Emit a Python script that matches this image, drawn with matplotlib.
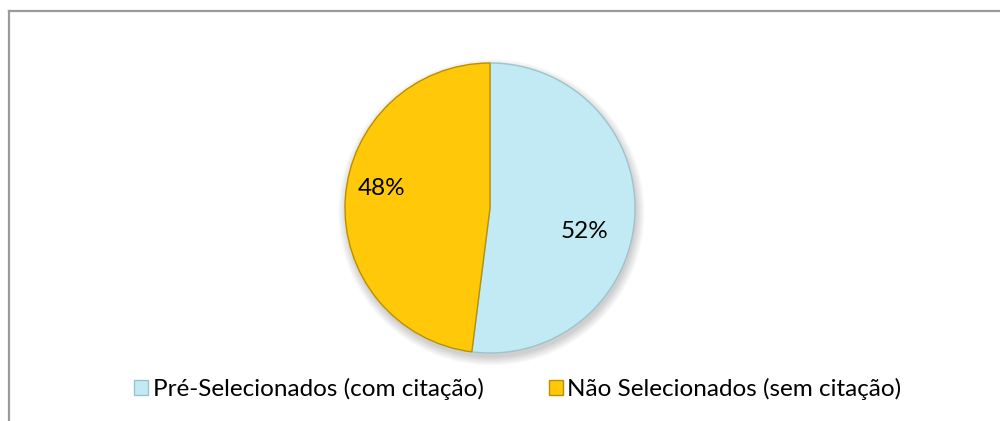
import numpy as np
import matplotlib.pyplot as plt
from matplotlib.lines import Line2D
from matplotlib.patches import Circle

plt.rcParams['font.family'] = ['Lato', 'DejaVu Sans']

categories = ['Pré-Selecionados (com citação)', 'Não Selecionados (sem citação)']
values = [52, 48]
colors = ['#C2EAF4', '#FFC90A']
edges = ['#9CC3CE', '#B89000']

W, H = 1000, 421
fig = plt.figure(figsize=(W / 100, H / 100), dpi=100)

# pie axes: centre (490, 208) px, radius 145 px
cx, cy, r, pad = 490, 208, 145, 160
ax = fig.add_axes([(cx - pad) / W, (H - cy - pad) / H, 2 * pad / W, 2 * pad / H])

# soft shadow under the pie
for i in range(8):
    ax.add_patch(Circle((0.01, -0.03), 1.0 + i * 0.008, color='#000000',
                        alpha=0.025, zorder=0, lw=0))

wedges, texts, autotexts = ax.pie(values, colors=colors, startangle=90,
                                  counterclock=False, autopct='%d%%',
                                  pctdistance=0.72, radius=1.0,
                                  wedgeprops=dict(linewidth=1.0),
                                  textprops=dict(fontsize=17.5, color='black'))
for w, ec in zip(wedges, edges):
    w.set_edgecolor(ec)
    w.set_zorder(2)

# label placement like Excel's "best fit"
label_pos = [(-14, 0.675), (170, 0.76)]
for t, (ang, d) in zip(autotexts, label_pos):
    t.set_position((d * np.cos(np.radians(ang)), d * np.sin(np.radians(ang))))

lim = pad / r
ax.set_xlim(-lim, lim)
ax.set_ylim(-lim, lim)
ax.set_aspect('equal')
ax.axis('off')

# frame lines (only top and left visible)
fig.add_artist(Line2D([9 / W, 1.0], [1 - 11 / H, 1 - 11 / H], color='#9a9a9a', lw=1.6))
fig.add_artist(Line2D([9 / W, 9 / W], [0, 1 - 11 / H], color='#9a9a9a', lw=1.6))

fig.legend(wedges, categories, loc='center', bbox_to_anchor=(518 / W, 1 - 389 / H),
           ncol=2, frameon=False, fontsize=17.5, handlelength=0.55, handleheight=0.55,
           handletextpad=0.2, columnspacing=2.7)

fig.savefig('out.png', dpi=100, facecolor='white')
